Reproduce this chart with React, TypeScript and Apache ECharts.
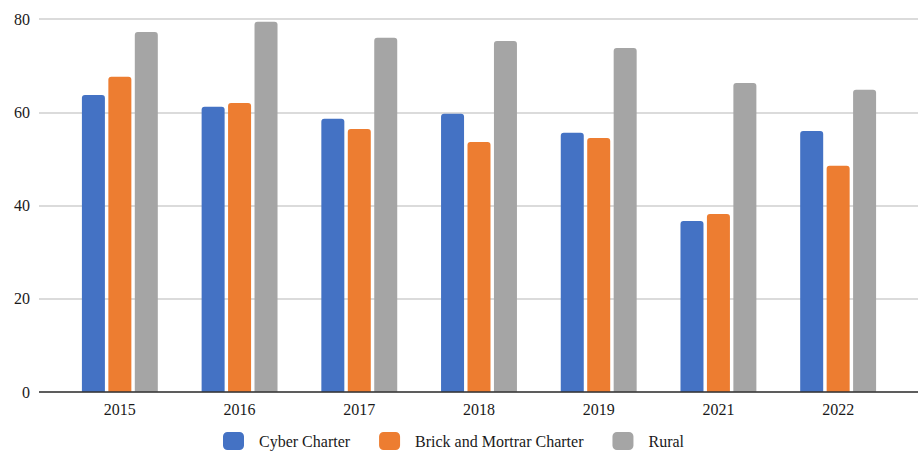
import React, { useEffect, useRef } from "react";
import * as echarts from "echarts";

const categories = ["2015", "2016", "2017", "2018", "2019", "2021", "2022"];
const cyberCharter = [63.7, 61.2, 58.6, 59.7, 55.6, 36.7, 56.0];
const brickMortrar = [67.6, 62.0, 56.4, 53.6, 54.5, 38.2, 48.5];
const rural = [77.2, 79.4, 76.0, 75.3, 73.8, 66.3, 64.8];
const seriesNames = ["Cyber Charter", "Brick and Mortrar Charter", "Rural"];
const colors = ["#4472C4", "#ED7D31", "#A5A5A5"];

export default function App() {
  const ref = useRef<HTMLDivElement>(null);
  useEffect(() => {
    if (!ref.current) return;
    const chart = echarts.init(ref.current, undefined, { renderer: "svg" });
    const font = "'Liberation Serif', 'Times New Roman', serif";
    const dataSets = [cyberCharter, brickMortrar, rural];
    chart.setOption({
      animation: false,
      textStyle: { fontFamily: font },
      grid: [
        { left: 39, right: 1, top: 19, bottom: 59 },
        { left: 60, right: 21, top: 19, bottom: 59 },
      ],
      xAxis: [
        {
          gridIndex: 0,
          type: "value",
          show: false,
          min: 0,
          max: 1,
        },
        {
          gridIndex: 1,
          type: "category",
          data: categories,
          axisLine: { show: false },
          axisTick: { show: false },
          axisLabel: { color: "#1a1a1a", fontSize: 16, fontFamily: font, margin: 9 },
        },
      ],
      yAxis: [
        {
          gridIndex: 0,
          type: "value",
          min: 0,
          max: 80,
          interval: 20,
          axisLine: { show: false },
          axisTick: { show: false },
          axisLabel: { color: "#1a1a1a", fontSize: 16, fontFamily: font, margin: 9 },
          splitLine: { lineStyle: { color: "#cfcfcf", width: 1.5 } },
        },
        {
          gridIndex: 1,
          type: "value",
          min: 0,
          max: 80,
          interval: 20,
          show: false,
          splitLine: { show: false },
        },
      ],
      legend: {
        data: seriesNames,
        left: 223,
        top: 432,
        padding: 0,
        itemWidth: 21,
        itemHeight: 18,
        itemGap: 29,
        icon: "roundRect",
        textStyle: { color: "#1a1a1a", fontSize: 16, fontFamily: font, padding: [0, 0, 0, 10] },
      },
      graphic: [
        {
          type: "line",
          shape: { x1: 39, y1: 392, x2: 918, y2: 392 },
          style: { stroke: "#333", lineWidth: 1.5 },
          z: 10,
        },
      ],
      series: dataSets.map((d, i) => ({
        name: seriesNames[i],
        type: "bar",
        xAxisIndex: 1,
        yAxisIndex: 1,
        data: d,
        barWidth: 23,
        barGap: "15%",
        itemStyle: { color: colors[i], borderRadius: [3, 3, 0, 0] },
      })),
    });
    return () => chart.dispose();
  }, []);
  return <div ref={ref} style={{ width: 919, height: 451, position: "absolute", left: 0, top: 0 }} />;
}
